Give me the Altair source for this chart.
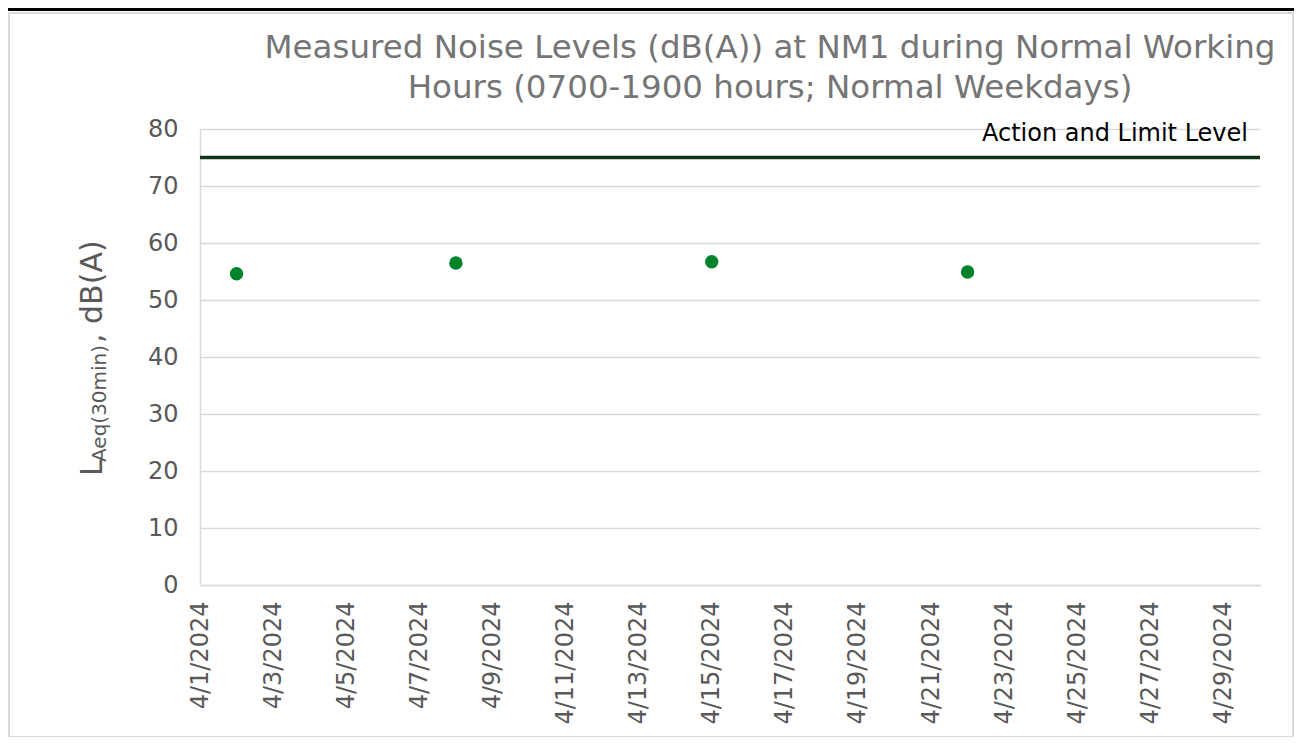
import altair as alt
import pandas as pd
from datetime import datetime, timezone

# ---- data ----
dates = ["2024-04-02", "2024-04-08", "2024-04-15", "2024-04-22"]
levels = [54.6, 56.5, 56.7, 54.9]
limit_level = [75]
limit_label = ["Action and Limit Level"]
tick_days = [1, 3, 5, 7, 9, 11, 13, 15, 17, 19, 21, 23, 25, 27, 29]
y_ticks = [0, 10, 20, 30, 40, 50, 60, 70, 80]
title_lines = ["Measured Noise Levels (dB(A)) at NM1 during Normal Working",
               "Hours (0700-1900 hours; Normal Weekdays)"]


def ms(day):
    return int(datetime(2024, 4, day, tzinfo=timezone.utc).timestamp() * 1000)


x_domain = [ms(1), ms(30)]
x_values = [ms(d) for d in tick_days]

FONT = "DejaVu Sans"
GRID = "#d9d9d9"
TXT = "#595959"

pts = pd.DataFrame({"date": dates, "level": levels})
lim = pd.DataFrame({"limit": limit_level, "label": limit_label, "date": ["2024-04-30"]})
one = pd.DataFrame({"k": [0]})

xscale = alt.Scale(type="utc", domain=x_domain)
yscale = alt.Scale(domain=[0, 80], nice=False)

xaxis = alt.Axis(values=x_values, labelExpr="utcFormat(datum.value, '%-m/%-d/%Y')",
                 labelAngle=270, labelFontSize=24, labelColor=TXT, labelFont=FONT,
                 labelPadding=16, ticks=False, grid=False, domainColor=GRID,
                 domainWidth=1.5, title=None, labelOverlap=False)
yaxis = alt.Axis(values=y_ticks, labelFontSize=24, labelColor=TXT, labelFont=FONT,
                 labelPadding=22, ticks=False, grid=True, gridColor=GRID, gridWidth=1.5,
                 domainColor=GRID, domainWidth=1.5, title=None)

frame = alt.Chart(one).mark_rect(fillOpacity=0, stroke=GRID, strokeWidth=2).encode(
    x=alt.value(-191), x2=alt.value(1093), y=alt.value(-116), y2=alt.value(608))
topbar = alt.Chart(one).mark_rule(color="black", strokeWidth=4).encode(
    x=alt.value(-200), x2=alt.value(1094), y=alt.value(-120))

title1 = alt.Chart(one).mark_text(text=title_lines[0], align="center", baseline="middle",
                                  fontSize=32.5, font=FONT, color="#757575").encode(
    x=alt.value(570), y=alt.value(-81))
title2 = alt.Chart(one).mark_text(text=title_lines[1], align="center", baseline="middle",
                                  fontSize=32.5, font=FONT, color="#757575").encode(
    x=alt.value(570), y=alt.value(-41))

points = alt.Chart(pts).mark_circle(size=180, color="#00832a", opacity=1).encode(
    x=alt.X("date:T", scale=xscale, axis=xaxis),
    y=alt.Y("level:Q", scale=yscale, axis=yaxis),
)

rule = alt.Chart(lim).mark_rule(color="#10341a", strokeWidth=3.5).encode(
    y=alt.Y("limit:Q", scale=yscale))

label = alt.Chart(lim).mark_text(align="right", baseline="alphabetic", dx=-12, dy=-17,
                                 fontSize=24, font=FONT, color="black").encode(
    x=alt.X("date:T", scale=xscale), y=alt.Y("limit:Q", scale=yscale), text="label:N")

yt_L = alt.Chart(one).mark_text(text="L", angle=270, align="left", baseline="alphabetic",
                                fontSize=30, font=FONT, color=TXT).encode(
    x=alt.value(-98), y=alt.value(347))
yt_sub = alt.Chart(one).mark_text(text="Aeq(30min)", angle=270, align="left",
                                  baseline="alphabetic", fontSize=20, font=FONT,
                                  color=TXT).encode(x=alt.value(-94), y=alt.value(333))
yt_rest = alt.Chart(one).mark_text(text=", dB(A)", angle=270, align="left",
                                   baseline="alphabetic", fontSize=30, font=FONT,
                                   color=TXT).encode(x=alt.value(-98), y=alt.value(214))

chart = alt.layer(frame, topbar, title1, title2, points, rule, label,
                  yt_L, yt_sub, yt_rest).properties(
    width=1060, height=456,
    autosize=alt.AutoSizeParams(type="none"),
    padding={"left": 192, "top": 121, "right": 34, "bottom": 152},
    background="white",
).configure_view(stroke=None)

chart.save("out.html", embed_options={"renderer": "svg", "actions": False})
